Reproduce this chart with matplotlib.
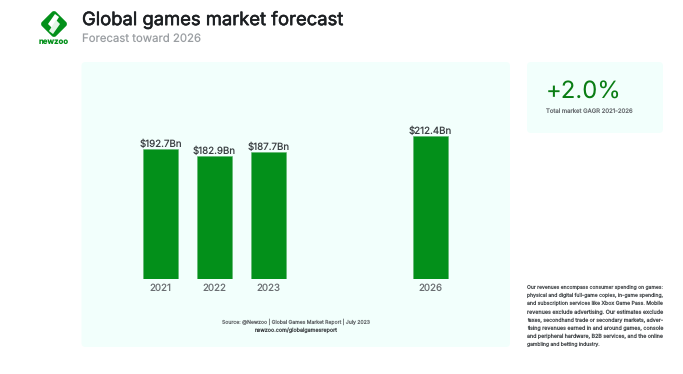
import matplotlib
matplotlib.use("Agg")
import matplotlib.pyplot as plt
import matplotlib.patheffects as pe
from matplotlib.patches import FancyBboxPatch, Polygon
from matplotlib.transforms import Affine2D

years = [2021, 2022, 2023, 2026]
values = [192.7, 182.9, 187.7, 212.4]
labels = ["$192.7Bn", "$182.9Bn", "$187.7Bn", "$212.4Bn"]

note_lines = [
    "Our revenues encompass consumer spending on games:",
    "physical and digital full-game copies, in-game spending,",
    "and subscription services like Xbox Game Pass. Mobile",
    "revenues exclude advertising. Our estimates exclude",
    "taxes, secondhand trade or secondary markets, adver-",
    "tising revenues earned in and around games, console",
    "and peripheral hardware, B2B services, and the online",
    "gambling and betting industry.",
]

W, H = 683, 374
GREEN = "#03901a"
PANEL = "#f2fffc"
DARK = "#3a3f42"


def heavier(width, color):
    return [pe.withStroke(linewidth=width, foreground=color)]


plt.rcParams["font.family"] = ["Inter", "DejaVu Sans"]
plt.rcParams["text.parse_math"] = False
plt.rcParams["text.hinting"] = "none"

fig = plt.figure(figsize=(W / 100, H / 100), dpi=100, facecolor="white")

# background layer in pixel coordinates
bg = fig.add_axes([0, 0, 1, 1])
bg.set_xlim(0, W)
bg.set_ylim(H, 0)
bg.axis("off")

for x, y, w, h in [(81.5, 62, 428.5, 285), (527, 62, 136, 71)]:
    bg.add_patch(FancyBboxPatch((x + 3, y + 3), w - 6, h - 6,
                                boxstyle="round,pad=3,rounding_size=4",
                                fc=PANEL, ec="none"))

# logo
diamond = FancyBboxPatch((-10, -10), 20, 20, boxstyle="round,pad=0,rounding_size=3",
                         fc=GREEN, ec="none",
                         transform=Affine2D().rotate_deg(45).translate(54, 24) + bg.transData)
bg.add_patch(diamond)
bg.add_patch(Polygon([(55, 14), (59, 17), (52, 28), (48, 24)], fc="white", ec="none"))
bg.add_patch(Polygon([(53, 34), (49, 31), (56, 20), (60, 24)], fc="#e4f5e7", ec="none"))
bg.text(54, 42, "newzoo", color=GREEN, fontsize=5.6, fontweight="bold", ha="center", va="center")

# titles
bg.text(82, 20, "Global games market forecast", color="#1c1f22", fontsize=13.25,
        ha="left", va="center", path_effects=heavier(0.4, "#1c1f22"))
bg.text(82, 38.5, "Forecast toward 2026", color="#9a9ea2", fontsize=8.2, ha="left", va="center")

# KPI
bg.text(546, 92, "+2.0%", color="#0a7d14", fontsize=17.2, ha="left", va="center")
bg.text(546, 111, "Total market GAGR 2021-2026", color="#6a6e72", fontsize=4.3, ha="left", va="center")

# source
bg.text(296, 322, "Source: @Newzoo | Global Games Market Report | July 2023", color="#65696c",
        fontsize=3.7, ha="center", va="center")
bg.text(296, 330.5, "newzoo.com/globalgamesreport", color="#44484b", fontsize=3.9,
        ha="center", va="center")

# note, each line scaled to the card width except the last one
renderer = fig.canvas.get_renderer()
left, right = 527, 663
for i, line in enumerate(note_lines):
    y = 289 + i * 8.15
    t = bg.text(left, y, line, color="#4a4e51", fontsize=3.65, ha="left", va="baseline")
    if i < len(note_lines) - 1:
        t.set_fontsize(3.65 * (right - left) / t.get_window_extent(renderer).width)

# bars: 54 px per year, 0.672 px per $Bn, baseline at y=278.5
x0, x1 = 133.0, 458.0
y_base, y_top = 278.5, 120.0
ax = fig.add_axes([x0 / W, 1 - y_base / H, (x1 - x0) / W, (y_base - y_top) / H])
ax.patch.set_alpha(0)
ax.set_xlim(2021 + (x0 - 160.5) / 54, 2021 + (x1 - 160.5) / 54)
ax.set_ylim(0, (y_base - y_top) / 0.672)
ax.bar(years, values, width=35 / 54, color=GREEN, edgecolor="#5fb56e", linewidth=0.4)
for yr, v, lab in zip(years, values, labels):
    ax.annotate(lab, (yr, v), xytext=(0, 0), textcoords="offset points", ha="center",
                va="bottom", fontsize=7.0, color=DARK)
ax.set_xticks(years)
ax.set_xticklabels([str(y) for y in years], fontsize=7.0, color="#6a6e72")
ax.tick_params(axis="x", length=0, pad=3.5)
ax.set_yticks([])
for s in ax.spines.values():
    s.set_visible(False)

fig.savefig("out.png", dpi=100)
